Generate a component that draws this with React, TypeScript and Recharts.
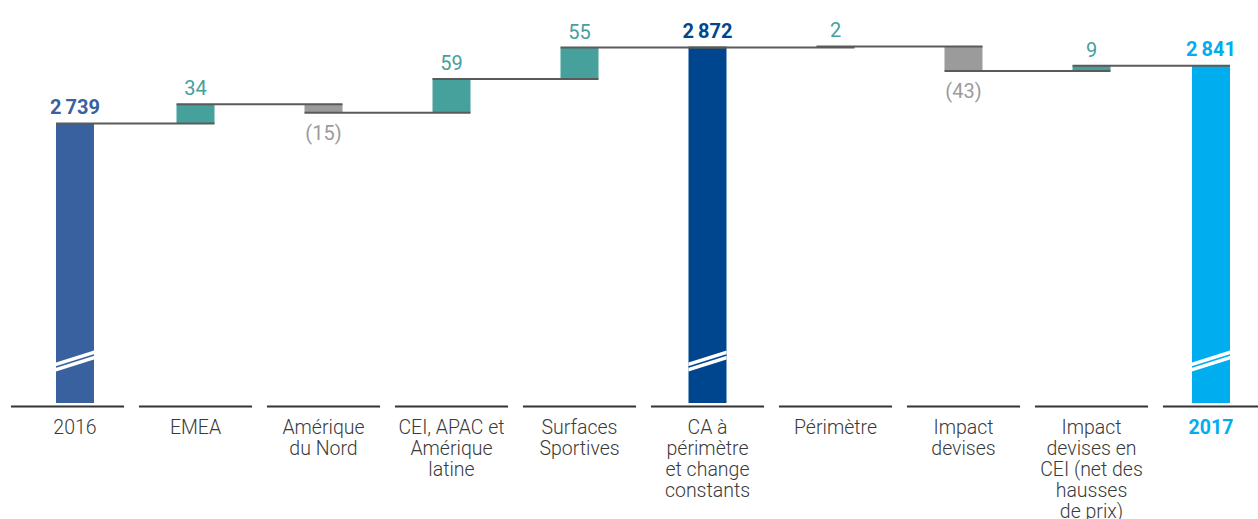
import React from 'react';
import { BarChart, Bar, XAxis, YAxis, LabelList } from 'recharts';

// categories ('\n' = line break in the tick label)
const CATEGORIES = [
  '2016',
  'EMEA',
  'Amérique\ndu Nord',
  'CEI, APAC et\nAmérique\nlatine',
  'Surfaces\nSportives',
  'CA à\npérimètre\net change\nconstants',
  'Périmètre',
  'Impact\ndevises',
  'Impact\ndevises en\nCEI (net des\nhausses\nde prix)',
  '2017',
];
// totals are absolute values, the rest are variations
const VALUES = [2739, 34, -15, 59, 55, 2872, 2, -43, 9, 2841];
const IS_TOTAL = [true, false, false, false, false, true, false, false, false, true];

const Y_MIN = 2250;
const Y_MAX = 2950;

const STEP = 128; // band width in px
const TEAL = '#46a09b';
const GREY = '#9b9b9b';
const LINE = '#5a5a5a';
const TOTAL_FILL: Record<string, string> = {
  '2016': '#3a619f',
  'CA à\npérimètre\net change\nconstants': '#00468f',
  '2017': '#00aeef',
};

// the two end columns sit a little inside their band
const shift = (i: number) => (i === 0 ? 7.5 : i === CATEGORIES.length - 1 ? -8.5 : 0);

type Row = { name: string; range: [number, number]; value: number; total: boolean; prev: number | null };

const rows: Row[] = [];
let running = 0;
CATEGORIES.forEach((name, i) => {
  const v = VALUES[i];
  const prev = i === 0 ? null : running;
  if (IS_TOTAL[i]) {
    running = v;
    rows.push({ name, range: [Y_MIN, v], value: v, total: true, prev });
  } else {
    const next = running + v;
    rows.push({ name, range: [Math.min(running, next), Math.max(running, next)], value: v, total: false, prev });
    running = next;
  }
});

const fmt = (v: number) => {
  const s = String(Math.abs(v));
  return s.length > 3 ? s.slice(0, s.length - 3) + '\u2009' + s.slice(-3) : s;
};

const barFill = (r: Row) => (r.total ? TOTAL_FILL[r.name] : r.value >= 0 ? TEAL : GREY);

const WaterfallShape = (props: any) => {
  const { y, width, height, payload, index } = props;
  const x = props.x + shift(index);
  const r = payload as Row;
  const [lo, hi] = r.range;
  const k = height / (hi - lo);
  const yOf = (v: number) => y + (hi - v) * k;
  const fill = barFill(r);
  const b = y + height;
  return (
    <g>
      <rect x={x} y={y} width={width} height={Math.max(height, 1)} fill={fill} />
      {r.total && (
        <g>
          <polygon
            points={`${x},${b - 40.5} ${x + width},${b - 52.5} ${x + width},${b - 43.5} ${x},${b - 31.5}`}
            fill="#fff"
          />
          <line x1={x} y1={b - 36} x2={x + width} y2={b - 48} stroke={fill} strokeWidth={1.8} />
        </g>
      )}
      {r.prev !== null && (
        <line
          x1={props.x - STEP + shift(index - 1)}
          x2={x + width}
          y1={yOf(r.prev)}
          y2={yOf(r.prev)}
          stroke={LINE}
          strokeWidth={2}
        />
      )}
    </g>
  );
};

const ValueLabel = (props: any) => {
  const { y, width, height, index } = props;
  const r = rows[index];
  const cx = props.x + shift(index) + width / 2;
  if (r.total) {
    return (
      <text x={cx} y={y - 9.5} textAnchor="middle" fontSize={20} fontWeight={700} fill={barFill(r)} fontFamily="Roboto">
        {fmt(r.value)}
      </text>
    );
  }
  if (r.value < 0) {
    return (
      <text x={cx} y={y + height + 27} textAnchor="middle" fontSize={20} fill={GREY} fontFamily="Roboto">
        ({fmt(r.value)})
      </text>
    );
  }
  return (
    <text x={cx} y={y - 9} textAnchor="middle" fontSize={20} fill={TEAL} fontFamily="Roboto">
      {fmt(r.value)}
    </text>
  );
};

const CategoryTick = (props: any) => {
  const { x, y, payload, index } = props;
  const lines = String(payload.value).split('\n');
  const last = payload.value === '2017';
  const tx = x + shift(index);
  return (
    <g>
      <line x1={x - 56.5} x2={x + 56.5} y1={y + 3.5} y2={y + 3.5} stroke="#333" strokeWidth={2} />
      <text
        x={tx}
        y={y + 31}
        textAnchor="middle"
        fontSize={19.5}
        fontFamily="Roboto"
        fontWeight={last ? 700 : 300}
        fill={last ? '#00aeef' : '#3a3a3a'}
      >
        {lines.map((l, i) => (
          <tspan key={i} x={tx} dy={i === 0 ? 0 : 21}>
            {l}
          </tspan>
        ))}
      </text>
    </g>
  );
};

export default function App() {
  return (
    <div style={{ position: 'absolute', left: 0, top: 0, width: 1258, height: 519, overflow: 'hidden', background: '#fff' }}>
      <BarChart width={1290} height={519} data={rows} margin={{ top: 3, right: 6.5, left: 3.5, bottom: 0 }}>
        <XAxis
          dataKey="name"
          interval={0}
          axisLine={false}
          tickLine={false}
          tickSize={0}
          tickMargin={0}
          height={116}
          tick={<CategoryTick />}
        />
        <YAxis hide domain={[Y_MIN, Y_MAX]} allowDataOverflow />
        <Bar dataKey="range" barSize={38} shape={<WaterfallShape />} isAnimationActive={false}>
          <LabelList dataKey="range" content={<ValueLabel />} />
        </Bar>
      </BarChart>
    </div>
  );
}
